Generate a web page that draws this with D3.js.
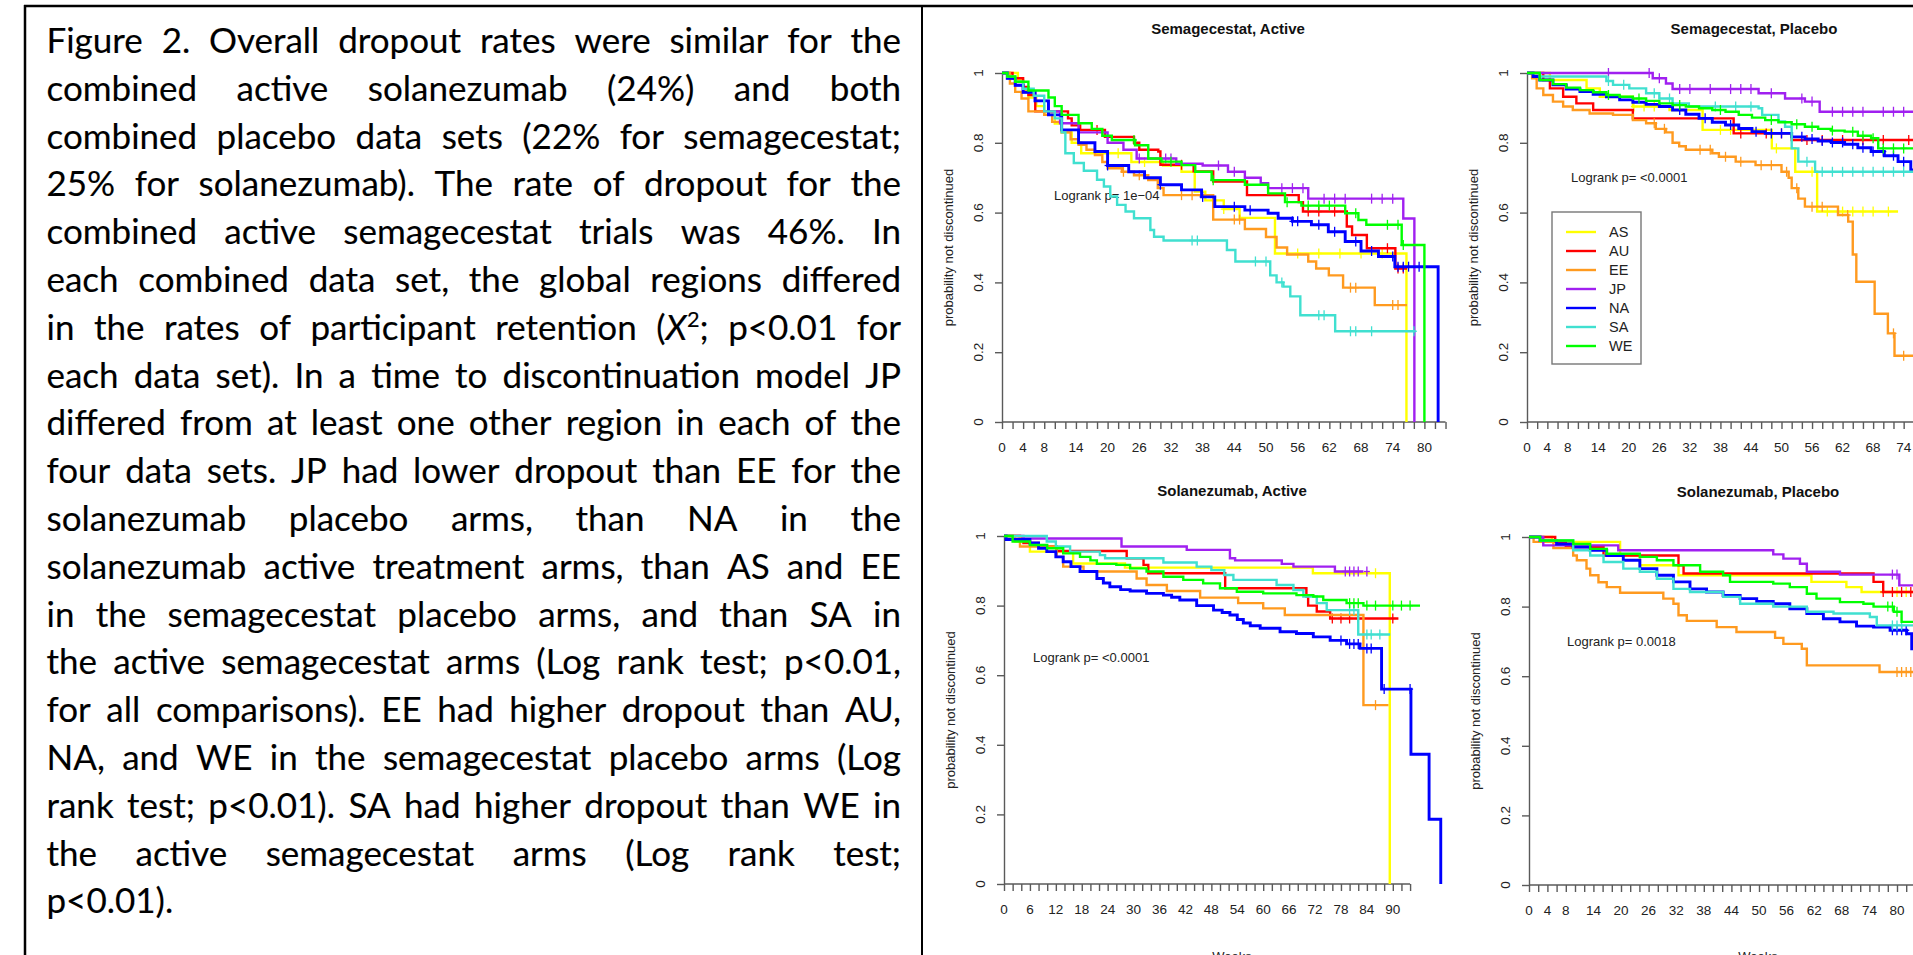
<!DOCTYPE html>
<html>
<head>
<meta charset="utf-8">
<script src="https://cdn.jsdelivr.net/npm/d3@7"></script>
<style>
  body { margin: 0; background: #fff; overflow: hidden; }
  svg { display: block; }
</style>
</head>
<body>
<svg id="fig" width="1913" height="955"></svg>
<script>
// regions and colours, in the order R draws them
var regions = ["AS", "AU", "EE", "JP", "NA", "SA", "WE"];
var regionColors = ["#ffff00", "#ff0000", "#ff9a1f", "#a020f0", "#0000ff", "#40e0d0", "#00ff00"];

// caption text, one entry per printed line
var captionLines = [
  "Figure 2. Overall dropout rates were similar for the",
  "combined active solanezumab (24%) and both",
  "combined placebo data sets (22% for semagecestat;",
  "25% for solanezumab). The rate of dropout for the",
  "combined active semagecestat trials was 46%. In",
  "each combined data set, the global regions differed",
  "in the rates of participant retention (X^2; p<0.01 for",
  "each data set). In a time to discontinuation model JP",
  "differed from at least one other region in each of the",
  "four data sets. JP had lower dropout than EE for the",
  "solanezumab placebo arms, than NA in the",
  "solanezumab active treatment arms, than AS and EE",
  "in the semagecestat placebo arms, and than SA in",
  "the active semagecestat arms (Log rank test; p<0.01,",
  "for all comparisons). EE had higher dropout than AU,",
  "NA, and WE in the semagecestat placebo arms (Log",
  "rank test; p<0.01). SA had higher dropout than WE in",
  "the active semagecestat arms (Log rank test;",
  "p<0.01)."
];

// x tick labels (weeks)
var semActLabels = [0, 4, 8, 14, 20, 26, 32, 38, 44, 50, 56, 62, 68, 74, 80];
var semPlaLabels = [0, 4, 8, 14, 20, 26, 32, 38, 44, 50, 56, 62, 68, 74, 80];
var solActLabels = [0, 6, 12, 18, 24, 30, 36, 42, 48, 54, 60, 66, 72, 78, 84, 90];
var solPlaLabels = [0, 4, 8, 14, 20, 26, 32, 38, 44, 50, 56, 62, 68, 74, 80, 86];
var yLabels = [0, 0.2, 0.4, 0.6, 0.8, 1];

// Kaplan-Meier steps [week, survival after step] -- Semagecestat, Active
var saAS = [[0,1],[3,0.98],[4,0.95],[5,0.93],[6.5,0.905],[8,0.88],[10,0.855],[11.3,0.83],[13.2,0.80],[15,0.77],[24.5,0.745],[30.5,0.735],[34,0.717],[36.5,0.66],[38.5,0.635],[42,0.61],[45,0.585],[51.7,0.483],[76.6,0]];
var saAU = [[0,1],[2,0.985],[4,0.96],[5,0.937],[6.3,0.89],[12.5,0.87],[13.2,0.85],[14.8,0.837],[19.5,0.817],[25,0.80],[26,0.78],[29.6,0.775],[30,0.737],[36.3,0.718],[40,0.689],[46.4,0.65],[56.2,0.63],[57,0.603],[65.3,0.56],[66.3,0.536],[69.1,0.498],[74.5,0.44],[76.7,0.44]];
var saEE = [[0,1],[1.5,0.97],[2.5,0.946],[3.7,0.927],[5,0.89],[8,0.88],[9.5,0.86],[11.3,0.83],[13,0.81],[14.5,0.794],[16,0.78],[17.6,0.765],[19,0.745],[20,0.727],[22.7,0.717],[25,0.707],[27.7,0.693],[29.5,0.67],[30.6,0.65],[40,0.58],[46,0.553],[50,0.53],[52,0.50],[54,0.48],[58,0.46],[59.5,0.44],[61.9,0.42],[64.6,0.385],[70.6,0.335],[76.7,0.335]];
var saJP = [[0,1],[1,0.985],[2.5,0.965],[4,0.945],[6.3,0.92],[8.8,0.89],[11,0.856],[14.5,0.83],[20,0.80],[23,0.78],[25.5,0.755],[33,0.74],[38,0.735],[42.8,0.717],[46,0.70],[49,0.684],[50.4,0.67],[58,0.64],[76,0.583],[78.1,0]];
var saNA = [[0,1],[1,0.985],[2.5,0.965],[4,0.945],[6.25,0.92],[8.8,0.88],[11.3,0.837],[14.5,0.80],[17.6,0.775],[20,0.735],[24,0.717],[27,0.70],[30,0.68],[34,0.665],[37.8,0.645],[40.3,0.617],[46,0.607],[50.4,0.598],[52.3,0.584],[55,0.575],[58.6,0.565],[61.8,0.545],[65,0.517],[68,0.49],[71.3,0.474],[74.4,0.445],[82.6,0]];
var saSA = [[0,1],[1,0.99],[2.5,0.975],[4,0.955],[6,0.935],[8,0.89],[10,0.87],[11.3,0.83],[12,0.77],[13.6,0.742],[15.5,0.72],[18,0.694],[19.3,0.675],[20.5,0.646],[21.8,0.622],[23.4,0.603],[25,0.584],[28.1,0.55],[28.8,0.531],[30.6,0.52],[42.6,0.493],[44.2,0.46],[50.8,0.42],[52,0.40],[53.3,0.388],[54.6,0.36],[56.5,0.306],[63.1,0.26],[78.3,0.26]];
var saWE = [[0,1],[1,0.99],[2.5,0.975],[5,0.95],[8.8,0.93],[10,0.905],[11.3,0.88],[14.5,0.856],[17,0.84],[19,0.82],[20.8,0.808],[25.2,0.793],[27.7,0.755],[30.2,0.746],[34,0.736],[36.6,0.717],[39.7,0.693],[46,0.68],[50.4,0.655],[53.6,0.63],[56.7,0.62],[65,0.598],[67.5,0.579],[69,0.565],[75.7,0.507],[80,0]];
// censoring times (weeks)
var saASc = [22, 27, 42, 56, 60, 64, 68, 72];
var saAUc = [18, 34, 58, 60, 63, 73, 75, 76];
var saEEc = [23, 26, 34, 36, 44, 45, 66, 67, 74, 75];
var saJPc = [26, 31, 32, 41, 44, 53, 55, 57, 61, 63, 65, 70, 72, 74];
var saNAc = [20, 30, 38, 44, 47, 55, 56, 60, 63, 67, 70, 74, 75, 76, 77, 79];
var saSAc = [36, 37, 48, 50, 53, 60, 61, 66, 67, 70, 78];
var saWEc = [25, 32, 40, 54, 58, 60, 62, 67, 73, 75, 76];

// Semagecestat, Placebo
var spAS = [[0,1],[4.5,0.98],[11.7,0.956],[14.3,0.932],[20.8,0.904],[28,0.894],[34.5,0.837],[48.1,0.784],[52.7,0.717],[57,0.603],[72.9,0.603]];
var spAU = [[0,1],[3.2,0.98],[4.5,0.956],[7.1,0.932],[9.7,0.913],[13,0.894],[20.8,0.87],[40.6,0.827],[52,0.808],[80,0.808]];
var spEE = [[0,1],[1,0.985],[1.9,0.956],[3.2,0.937],[5.1,0.918],[7.1,0.904],[9,0.894],[12.3,0.884],[16.9,0.88],[20.8,0.865],[23.4,0.856],[25.3,0.84],[27.3,0.83],[28.6,0.80],[29.9,0.79],[31.2,0.78],[36.4,0.77],[37.7,0.76],[41,0.746],[44.9,0.736],[50,0.717],[51.4,0.70],[52,0.67],[53.3,0.64],[54.6,0.617],[61.1,0.593],[63.1,0.574],[64,0.48],[64.7,0.402],[68.3,0.31],[70.9,0.254],[72.2,0.19],[80,0.19]];
var spJP = [[0,1],[24.7,0.985],[27.3,0.97],[28.6,0.954],[45.5,0.942],[50.7,0.927],[54.6,0.918],[57.5,0.889],[80,0.889]];
var spNA = [[0,1],[1.2,0.99],[2.5,0.98],[5.1,0.966],[7.7,0.954],[10.4,0.947],[13,0.939],[15.6,0.932],[18.2,0.923],[20.8,0.916],[23.4,0.91],[26,0.904],[28.6,0.894],[31.2,0.882],[33.8,0.87],[36.4,0.859],[39,0.851],[41.6,0.841],[44.2,0.832],[46.8,0.827],[52,0.817],[54.6,0.811],[57.2,0.805],[59.8,0.801],[62.4,0.796],[65,0.786],[67.6,0.775],[70.2,0.763],[72.9,0.746],[75.4,0.722],[80,0.70]];
var spSA = [[0,1],[2.5,0.99],[15.6,0.977],[16.9,0.966],[20.1,0.956],[23.4,0.942],[26,0.927],[28.6,0.913],[31.8,0.904],[45.5,0.899],[46.2,0.88],[49.4,0.861],[50.7,0.846],[52,0.784],[53.3,0.746],[56.6,0.717],[80,0.717]];
var spWE = [[0,1],[2.5,0.98],[5.1,0.968],[7.7,0.958],[10.4,0.951],[13,0.945],[15.6,0.937],[18.2,0.932],[20.8,0.927],[23.4,0.92],[26,0.913],[28.6,0.908],[31.2,0.904],[33.8,0.899],[36.4,0.894],[39,0.889],[41.6,0.88],[44.2,0.872],[46.8,0.865],[49.4,0.859],[52,0.853],[54.6,0.846],[57.2,0.84],[59.8,0.835],[62.4,0.832],[65,0.82],[67.6,0.813],[69,0.784],[80,0.784]];
var spASc = [21, 23, 25, 38, 40, 49, 56, 59, 62, 64, 66, 68, 71];
var spAUc = [42, 47, 50, 55, 58, 62, 66, 70, 75];
var spEEc = [25, 27, 34, 36, 39, 42, 46, 48, 51, 53, 56, 58, 63, 72, 74];
var spJPc = [16, 24, 26, 30, 32, 36, 40, 42, 44, 48, 54, 56, 60, 62, 64, 66, 70, 72, 74];
var spNAc = [30, 35, 40, 45, 48, 50, 54, 56, 58, 60, 62, 64, 66, 68, 70, 72, 74];
var spSAc = [16, 19, 25, 28, 37, 41, 44, 55, 58, 60, 62, 64, 66, 68, 70, 72, 74];
var spWEc = [16, 22, 30, 38, 48, 53, 56, 60, 64, 66, 68, 70, 72, 74];

// Solanezumab, Active
var laAS = [[0,1],[2.5,0.984],[6,0.955],[16,0.921],[28,0.909],[71.5,0.893],[89.3,0]];
var laAU = [[0,1],[3.7,0.993],[4.5,0.98],[8,0.97],[12.2,0.957],[28.4,0.936],[32.3,0.917],[33.4,0.893],[51.2,0.85],[70,0.826],[70.4,0.80],[72.4,0.783],[75.5,0.763],[91.3,0.763]];
var laEE = [[0,1],[3.7,0.97],[12.2,0.94],[13.7,0.912],[18.4,0.898],[30.7,0.878],[33,0.859],[37.7,0.842],[45.4,0.823],[54.2,0.807],[60,0.792],[65,0.773],[83.2,0.514],[89,0.514]];
var laJP = [[0,1],[4.5,0.993],[27.2,0.97],[42.3,0.96],[52.3,0.936],[53.5,0.93],[64.3,0.92],[67,0.912],[76.6,0.898],[83.2,0.898]];
var laNA = [[0,1],[0.5,0.99],[6,0.98],[8,0.965],[9.9,0.955],[12,0.94],[13.7,0.926],[15.5,0.912],[17.6,0.898],[21.5,0.878],[23,0.865],[24.5,0.854],[27,0.846],[29.2,0.842],[33,0.835],[36.9,0.83],[38.8,0.824],[40.7,0.816],[44.6,0.80],[48.5,0.787],[50.5,0.78],[52.3,0.773],[54,0.76],[55.4,0.75],[57,0.742],[59.3,0.735],[63.9,0.725],[67.7,0.72],[71.6,0.71],[75.5,0.70],[79.3,0.69],[82.4,0.677],[87.4,0.56],[94.2,0.373],[98.4,0.186],[101.1,0]];
var laSA = [[0,1],[9.9,0.984],[12,0.97],[15.3,0.955],[22.2,0.945],[23.4,0.936],[36.9,0.924],[44.6,0.912],[48,0.902],[51,0.888],[53.1,0.874],[63.1,0.859],[67,0.845],[69.3,0.826],[72.4,0.807],[74.7,0.787],[82,0.717],[89.4,0.717]];
var laWE = [[0,1],[2,0.984],[6,0.974],[10,0.965],[13.7,0.95],[17.6,0.94],[20,0.93],[21.5,0.92],[26,0.917],[29.2,0.907],[33,0.898],[36.9,0.883],[41.5,0.874],[46.1,0.864],[50,0.85],[53.9,0.84],[60,0.835],[67.7,0.83],[71.6,0.826],[73.9,0.816],[79.3,0.807],[83.2,0.80],[96.3,0.80]];
var laASc = [86];
var laAUc = [76, 78, 80, 82, 90];
var laEEc = [82, 86];
var laJPc = [79, 80, 81, 82, 84];
var laNAc = [78, 80, 81, 82, 84, 85, 88, 94];
var laSAc = [80, 81, 84, 85, 87];
var laWEc = [80, 81, 82, 84, 86, 90, 92, 94];

// Solanezumab, Placebo
var lpAS = [[0,1],[5,0.986],[19.8,0.947],[24.1,0.919],[32.5,0.89],[61.4,0.871],[69,0.856],[72.3,0.842],[86,0.842]];
var lpAU = [[0,1],[5.7,0.986],[8,0.971],[16.2,0.947],[32.5,0.919],[33.6,0.895],[74.9,0.871],[77,0.842],[86,0.842]];
var lpEE = [[0,1],[1,0.986],[5.3,0.968],[9.6,0.947],[10.4,0.933],[12.5,0.909],[13.3,0.89],[15.1,0.87],[16.9,0.856],[19.8,0.84],[29.2,0.823],[31.4,0.808],[32.5,0.775],[34.3,0.759],[40.8,0.741],[45.1,0.727],[53.5,0.71],[55.3,0.693],[59.3,0.679],[60.4,0.631],[76.2,0.612],[86,0.612]];
var lpJP = [[0,1],[3.1,0.976],[19.4,0.962],[53.1,0.95],[55.3,0.938],[58.9,0.923],[60.4,0.90],[67.6,0.892],[80.5,0.861],[86,0.861]];
var lpNA = [[0,1],[2.4,0.99],[6,0.98],[9.6,0.971],[13.3,0.962],[16.9,0.947],[20.5,0.933],[24.1,0.909],[27.8,0.89],[31.4,0.871],[35,0.851],[38.6,0.842],[42.2,0.832],[45.9,0.823],[49.5,0.815],[53.1,0.808],[56.7,0.794],[60.4,0.78],[64,0.765],[67.6,0.756],[71.2,0.744],[74.9,0.741],[78.5,0.732],[82.1,0.722],[83.2,0.679],[86,0.65]];
var lpSA = [[0,1],[2.4,0.99],[9.6,0.962],[13.3,0.947],[16.2,0.928],[20.5,0.909],[24.1,0.90],[27.8,0.88],[31.4,0.851],[35,0.842],[42.2,0.828],[45.9,0.808],[53.1,0.80],[60.4,0.785],[66.2,0.78],[74.1,0.77],[75.6,0.746],[86,0.746]];
var lpWE = [[0,1],[2.4,0.99],[9.6,0.98],[13.3,0.966],[16.9,0.952],[24.1,0.943],[27.8,0.933],[31.4,0.919],[37.2,0.90],[42.2,0.89],[43.7,0.871],[53.1,0.866],[56.7,0.856],[60.4,0.837],[62.5,0.823],[67.6,0.813],[72.7,0.808],[74.9,0.80],[79.3,0.785],[81,0.756],[86,0.756]];
var lpASc = [80, 82];
var lpAUc = [77, 79, 81, 83];
var lpEEc = [80, 81, 82, 83];
var lpJPc = [79, 80];
var lpNAc = [79, 80, 81, 82];
var lpSAc = [79, 80, 81];
var lpWEc = [78, 79, 80];

var W = 1913, H = 955;
var svg = d3.select("#fig");
svg.append("rect").attr("width", W).attr("height", H).attr("fill", "#fff");

// ---- caption box ----
svg.append("line").attr("x1", 24).attr("x2", W).attr("y1", 6).attr("y2", 6)
  .attr("stroke", "#000").attr("stroke-width", 2.5);
svg.append("line").attr("x1", 25).attr("x2", 25).attr("y1", 5).attr("y2", H)
  .attr("stroke", "#000").attr("stroke-width", 2.5);
svg.append("line").attr("x1", 922).attr("x2", 922).attr("y1", 5).attr("y2", H)
  .attr("stroke", "#000").attr("stroke-width", 2);

var capFont = "Lato, 'Open Sans', sans-serif";
var capSize = 35, capLeft = 46.5, capRight = 901, capTop = 53, capStep = 47.8;

captionLines.forEach(function (line, i) {
  var y = capTop + i * capStep;
  var words = line.split(" ");
  var g = svg.append("g");
  var nodes = words.map(function (w) {
    var t = g.append("text").attr("y", y)
      .attr("font-family", capFont).attr("font-size", capSize).attr("fill", "#000")
      .attr("stroke", "#000").attr("stroke-width", 0.15);
    if (w.indexOf("^") >= 0) {
      // (X²;  with italic X and superscript 2
      t.append("tspan").text("(");
      t.append("tspan").attr("font-style", "italic").text("X");
      t.append("tspan").attr("font-size", capSize * 0.62).attr("dy", -13).text("2");
      t.append("tspan").attr("dy", 13).text(";");
    } else {
      t.text(w);
    }
    return t;
  });
  var widths = nodes.map(function (n) { return n.node().getComputedTextLength(); });
  var total = d3.sum(widths);
  var lastLine = i === captionLines.length - 1;
  var gap = lastLine ? capSize * 0.22 : (capRight - capLeft - total) / (words.length - 1);
  var x = capLeft;
  nodes.forEach(function (n, j) {
    n.attr("x", x);
    x += widths[j] + gap;
  });
});

// ---- survival panels ----
var plotFont = "'Liberation Sans', Arial, sans-serif";

var panels = [
  { title: "Semagecestat, Active", logrank: "Logrank p= 1e\u221204",
    x0: 1002, pxw: 5.28, yTop: 73, yBot: 422, tickMax: 84, labels: semActLabels,
    curves: [saAS, saAU, saEE, saJP, saNA, saSA, saWE],
    cens: [saASc, saAUc, saEEc, saJPc, saNAc, saSAc, saWEc],
    tx: 1228, ty: 33.5, lx: 1054, ly: 199.5, weeks: false, legend: false },
  { title: "Semagecestat, Placebo", logrank: "Logrank p= <0.0001",
    x0: 1527, pxw: 5.09, yTop: 73, yBot: 422, tickMax: 84, labels: semPlaLabels,
    curves: [spAS, spAU, spEE, spJP, spNA, spSA, spWE],
    cens: [spASc, spAUc, spEEc, spJPc, spNAc, spSAc, spWEc],
    tx: 1754, ty: 33.5, lx: 1571, ly: 181.5, weeks: false, legend: true },
  { title: "Solanezumab, Active", logrank: "Logrank p= <0.0001",
    x0: 1004, pxw: 4.32, yTop: 536, yBot: 884, tickMax: 94, labels: solActLabels,
    curves: [laAS, laAU, laEE, laJP, laNA, laSA, laWE],
    cens: [laASc, laAUc, laEEc, laJPc, laNAc, laSAc, laWEc],
    tx: 1232, ty: 495.5, lx: 1033, ly: 661.5, weeks: true, legend: false },
  { title: "Solanezumab, Placebo", logrank: "Logrank p= 0.0018",
    x0: 1529, pxw: 4.6, yTop: 537, yBot: 885, tickMax: 88, labels: solPlaLabels,
    curves: [lpAS, lpAU, lpEE, lpJP, lpNA, lpSA, lpWE],
    cens: [lpASc, lpAUc, lpEEc, lpJPc, lpNAc, lpSAc, lpWEc],
    tx: 1758, ty: 496.5, lx: 1567, ly: 645.5, weeks: true, legend: false }
];

function stepValue(curve, t) {
  var s = 1;
  curve.forEach(function (d) { if (d[0] <= t) s = d[1]; });
  return s;
}

panels.forEach(function (p) {
  var x = d3.scaleLinear().domain([0, 100]).range([p.x0, p.x0 + 100 * p.pxw]);
  var y = d3.scaleLinear().domain([0, 1]).range([p.yBot, p.yTop]);
  var g = svg.append("g");

  // x axis
  var xAxis = g.append("g").attr("transform", "translate(0," + p.yBot + ")")
    .call(d3.axisBottom(x).tickValues(d3.range(0, p.tickMax + 1, 2))
      .tickSize(7).tickSizeOuter(0).tickFormat(""));
  xAxis.select(".domain").attr("d", "M" + x(0) + ",0H" + x(p.tickMax));
  xAxis.selectAll("line, path").attr("stroke", "#5a5a5a").attr("stroke-width", 1.4);
  // only labels that fit inside the picture
  var shown = p.labels.filter(function (d) { return x(d) + 8 < W; });
  g.selectAll(".xlab").data(shown).enter().append("text")
    .attr("x", function (d) { return x(d); }).attr("y", p.yBot + 30)
    .attr("text-anchor", "middle").attr("font-family", plotFont).attr("font-size", 13.5)
    .attr("fill", "#222").text(function (d) { return d; });

  // y axis
  var yAxis = g.append("g").attr("transform", "translate(" + p.x0 + ",0)")
    .call(d3.axisLeft(y).tickValues(yLabels).tickSize(7).tickSizeOuter(0).tickFormat(""));
  yAxis.selectAll("line, path").attr("stroke", "#5a5a5a").attr("stroke-width", 1.4);
  g.selectAll(".ylab").data(yLabels).enter().append("text")
    .attr("transform", function (d) { return "translate(" + (p.x0 - 24) + "," + y(d) + ") rotate(-90)"; })
    .attr("dy", "0.35em").attr("text-anchor", "middle")
    .attr("font-family", plotFont).attr("font-size", 13.5).attr("fill", "#222")
    .text(function (d) { return d; });
  g.append("text")
    .attr("transform", "translate(" + (p.x0 - 54) + "," + ((p.yTop + p.yBot) / 2) + ") rotate(-90)")
    .attr("dy", "0.35em").attr("text-anchor", "middle")
    .attr("font-family", plotFont).attr("font-size", 13).attr("fill", "#222")
    .text("probability not discontinued");

  // title, logrank, weeks
  g.append("text").attr("x", p.tx).attr("y", p.ty).attr("text-anchor", "middle")
    .attr("font-family", plotFont).attr("font-size", 15).attr("font-weight", "bold")
    .attr("fill", "#111").text(p.title);
  g.append("text").attr("x", p.lx).attr("y", p.ly)
    .attr("font-family", plotFont).attr("font-size", 13).attr("fill", "#222").text(p.logrank);
  if (p.weeks) {
    g.append("text").attr("x", p.tx).attr("y", 961).attr("text-anchor", "middle")
      .attr("font-family", plotFont).attr("font-size", 13).attr("fill", "#222").text("Weeks");
  }

  // curves
  var line = d3.line().x(function (d) { return x(d[0]); }).y(function (d) { return y(d[1]); })
    .curve(d3.curveStepAfter);
  p.curves.forEach(function (c, k) {
    g.append("path").datum(c).attr("d", line).attr("fill", "none")
      .attr("stroke", regionColors[k]).attr("stroke-width", k === 4 ? 2.9 : 2.4);
    var marks = g.append("g").attr("stroke", regionColors[k]).attr("stroke-width", 1.3);
    p.cens[k].forEach(function (t) {
      var cx = x(t), cy = y(stepValue(c, t));
      marks.append("line").attr("x1", cx).attr("x2", cx).attr("y1", cy - 5).attr("y2", cy + 5);
      marks.append("line").attr("x1", cx - 3).attr("x2", cx + 3).attr("y1", cy).attr("y2", cy);
    });
  });

  // legend
  if (p.legend) {
    var lg = g.append("g");
    lg.append("rect").attr("x", 1552).attr("y", 212).attr("width", 89).attr("height", 152)
      .attr("fill", "#fff").attr("stroke", "#777").attr("stroke-width", 1.4);
    regions.forEach(function (r, k) {
      var ly = 232 + k * 19;
      lg.append("line").attr("x1", 1566).attr("x2", 1596).attr("y1", ly).attr("y2", ly)
        .attr("stroke", regionColors[k]).attr("stroke-width", 2.4);
      lg.append("text").attr("x", 1609).attr("y", ly + 5.2)
        .attr("font-family", plotFont).attr("font-size", 14.5).attr("fill", "#222").text(r);
    });
  }
});
</script>
</body>
</html>
